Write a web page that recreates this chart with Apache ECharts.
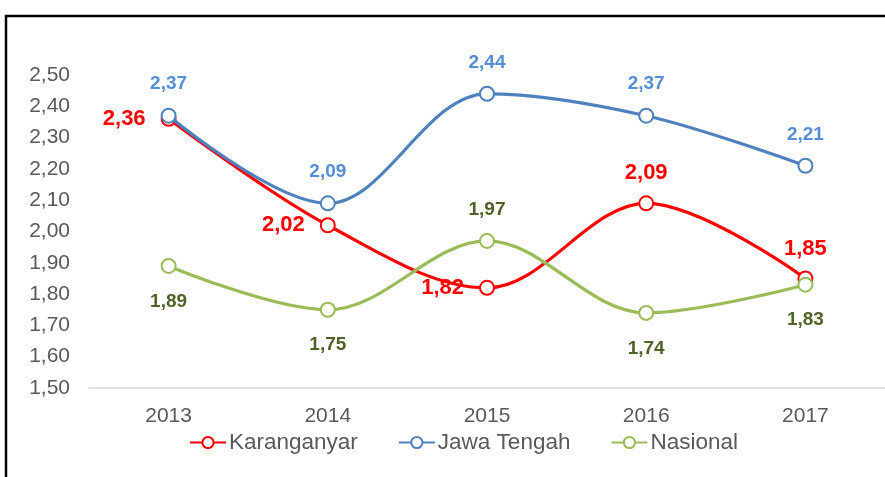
<!DOCTYPE html>
<html><head><meta charset="utf-8">
<script src="https://cdn.jsdelivr.net/npm/echarts@6/dist/echarts.min.js"></script>
<style>html,body{margin:0;padding:0;background:#fff}#c{width:885px;height:477px}</style>
</head><body><div id="c"></div>
<script>
const categories = ['2013','2014','2015','2016','2017'];
const karanganyar = [2.36, 2.02, 1.82, 2.09, 1.85];
const jawaTengah = [2.37, 2.09, 2.44, 2.37, 2.21];
const nasional = [1.89, 1.75, 1.97, 1.74, 1.83];
const yTicks = [1.5, 2.5, 0.1];

const fmt = v => v.toFixed(2).replace('.', ',');
const F = 'Arial, "Liberation Sans", sans-serif';
const chart = echarts.init(document.getElementById('c'));

function pts(arr, posFn, base) {
  return arr.map((v, i) => ({ value: v, label: Object.assign({}, base, posFn(i)) }));
}

chart.setOption({
  animation: false,
  graphic: [{
    type: 'rect', shape: { x: 6, y: 16, width: 900, height: 500 },
    style: { fill: 'none', stroke: '#000', lineWidth: 2.5 }, silent: true
  }],
  grid: { left: 89, top: 75, width: 798, height: 313 },
  legend: {
    top: 426, left: 184, itemGap: 40, itemWidth: 36, itemHeight: 14,
    textStyle: { fontFamily: F, fontSize: 22.5, color: '#595959', padding: [0, 0, 0, -2] },
    data: ['Karanganyar', 'Jawa Tengah', 'Nasional']
  },
  xAxis: {
    type: 'category', data: categories, boundaryGap: true,
    axisLine: { lineStyle: { color: '#D9D9D9', width: 1.5 } },
    axisTick: { show: false },
    axisLabel: { fontFamily: F, fontSize: 21, color: '#595959', margin: 18 }
  },
  yAxis: {
    type: 'value', min: yTicks[0], max: yTicks[1], interval: yTicks[2],
    splitLine: { show: false }, axisLine: { show: false }, axisTick: { show: false },
    axisLabel: { fontFamily: F, fontSize: 21, color: '#595959', margin: 19, formatter: v => fmt(v) }
  },
  series: [
    {
      name: 'Karanganyar', type: 'line', smooth: 0.35, z: 3,
      symbol: 'emptyCircle', symbolSize: 14,
      lineStyle: { color: '#FF0000', width: 3.2 },
      itemStyle: { color: '#FF0000', borderColor: '#FF0000', borderWidth: 2.5 },
      data: pts(karanganyar, i => i < 3 ? { position: 'left', distance: 15 } : { position: 'top', distance: 11 },
        { show: true, fontFamily: F, fontSize: 22, fontWeight: 'bold', color: '#FF0000', formatter: p => fmt(p.value) })
    },
    {
      name: 'Jawa Tengah', type: 'line', smooth: 0.35, z: 4,
      symbol: 'emptyCircle', symbolSize: 14,
      lineStyle: { color: '#4F81BD', width: 3.2 },
      itemStyle: { color: '#4F81BD', borderColor: '#4F81BD', borderWidth: 2.5 },
      data: pts(jawaTengah, i => ({ position: 'top', distance: 14 }),
        { show: true, fontFamily: F, fontSize: 19, fontWeight: 'bold', color: '#558ED5', formatter: p => fmt(p.value) })
    },
    {
      name: 'Nasional', type: 'line', smooth: 0.35, z: 5,
      symbol: 'emptyCircle', symbolSize: 14,
      lineStyle: { color: '#9BBB59', width: 3.2 },
      itemStyle: { color: '#9BBB59', borderColor: '#9BBB59', borderWidth: 2.5 },
      data: pts(nasional, i => i === 2 ? { position: 'top', distance: 14 } : { position: 'bottom', distance: 18 },
        { show: true, fontFamily: F, fontSize: 19, fontWeight: 'bold', color: '#4F6228', formatter: p => fmt(p.value) })
    }
  ]
});
</script></body></html>
